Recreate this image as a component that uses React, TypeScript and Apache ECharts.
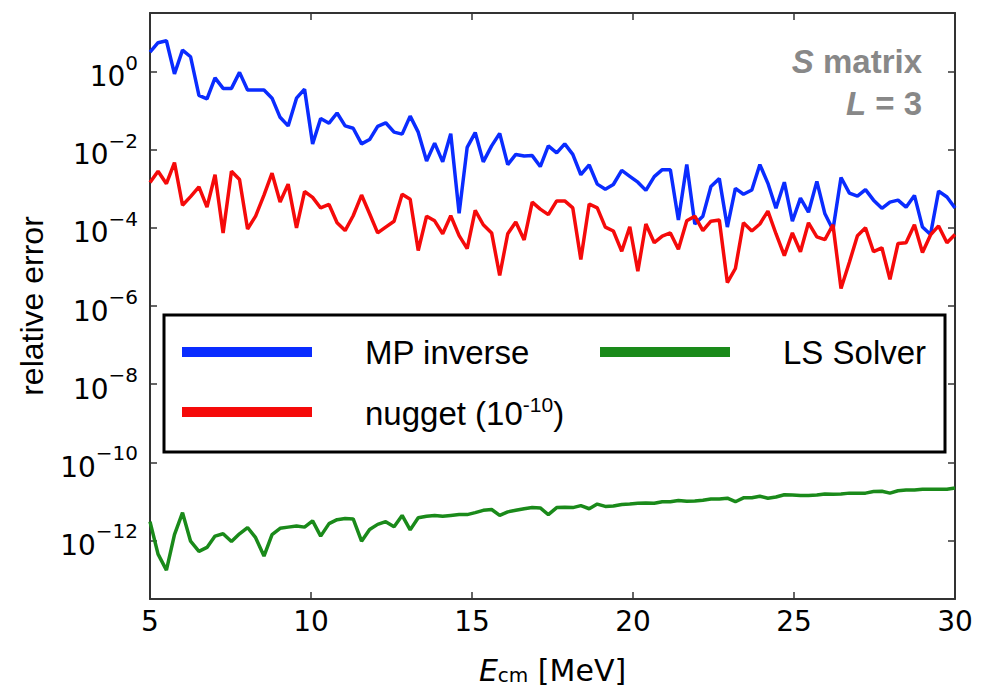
import { useEffect, useRef } from "react";
import * as echarts from "echarts";

// Sample energies E_cm [MeV] (100 samples from 5 to 30)
const energies = [
  5.0, 5.25, 5.51, 5.76, 6.01, 6.26, 6.52, 6.77, 7.02, 7.27,
  7.53, 7.78, 8.03, 8.28, 8.54, 8.79, 9.04, 9.29, 9.55, 9.8,
  10.05, 10.3, 10.56, 10.81, 11.06, 11.31, 11.57, 11.82, 12.07, 12.32,
  12.58, 12.83, 13.08, 13.33, 13.59, 13.84, 14.09, 14.34, 14.6, 14.85,
  15.1, 15.35, 15.61, 15.86, 16.11, 16.36, 16.62, 16.87, 17.12, 17.37,
  17.63, 17.88, 18.13, 18.38, 18.64, 18.89, 19.14, 19.39, 19.65, 19.9,
  20.15, 20.4, 20.66, 20.91, 21.16, 21.41, 21.67, 21.92, 22.17, 22.42,
  22.68, 22.93, 23.18, 23.43, 23.69, 23.94, 24.19, 24.44, 24.7, 24.95,
  25.2, 25.45, 25.71, 25.96, 26.21, 26.46, 26.72, 26.97, 27.22, 27.47,
  27.73, 27.98, 28.23, 28.48, 28.74, 28.99, 29.24, 29.49, 29.75, 30.0,
];

// Relative errors, stored as log10 exponents
const mpInverseExp = [
  0.5, 0.74, 0.79, -0.06, 0.55, 0.38, -0.61, -0.7, -0.16, -0.43,
  -0.43, -0.02, -0.47, -0.47, -0.47, -0.68, -1.17, -1.39, -0.68, -0.45,
  -1.85, -1.2, -1.32, -1.06, -1.39, -1.45, -1.85, -1.74, -1.4, -1.31,
  -1.55, -1.6, -1.14, -1.55, -2.29, -1.83, -2.31, -1.59, -3.63, -1.94,
  -1.56, -2.31, -1.9, -1.58, -2.38, -2.12, -2.16, -2.15, -2.43, -1.9,
  -2.08, -1.85, -2.12, -2.64, -2.39, -2.88, -3.01, -2.89, -2.53, -2.68,
  -2.83, -3.04, -2.69, -2.51, -2.51, -3.8, -2.38, -3.9, -3.7, -2.94,
  -2.74, -3.98, -2.99, -3.14, -3.03, -2.38, -2.86, -3.5, -2.83, -3.83,
  -3.24, -3.6, -2.81, -3.64, -4.05, -2.71, -3.11, -3.19, -3.02, -3.29,
  -3.5, -3.34, -3.29, -3.47, -3.17, -3.98, -4.17, -3.06, -3.21, -3.49,
];

const nuggetExp = [
  -2.84, -2.55, -2.87, -2.33, -3.42, -3.2, -2.95, -3.47, -2.64, -4.13,
  -2.55, -2.76, -4.03, -3.7, -3.16, -2.6, -3.34, -2.88, -4.0, -3.07,
  -3.22, -3.49, -3.4, -3.87, -4.07, -3.69, -3.16, -3.64, -4.13, -3.98,
  -3.83, -3.14, -3.27, -4.58, -3.7, -3.82, -4.15, -3.69, -4.2, -4.53,
  -3.55, -3.92, -4.13, -5.22, -4.15, -3.85, -4.31, -3.34, -3.52, -3.66,
  -3.31, -3.31, -3.49, -4.81, -3.39, -3.49, -3.98, -4.08, -4.6, -3.97,
  -5.11, -3.9, -4.38, -4.21, -4.13, -4.55, -3.82, -3.7, -4.07, -3.83,
  -3.8, -5.4, -5.04, -3.87, -4.08, -3.9, -3.57, -4.15, -4.71, -4.13,
  -4.61, -3.87, -4.23, -4.3, -3.92, -5.55, -4.88, -4.2, -4.0, -4.61,
  -4.51, -5.32, -4.4, -4.38, -3.92, -4.63, -4.18, -3.95, -4.38, -4.17,
];

const lsSolverExp = [
  -11.52, -12.35, -12.76, -11.85, -11.29, -12.02, -12.28, -12.18, -11.89, -11.83,
  -12.03, -11.83, -11.67, -11.93, -12.4, -11.85, -11.69, -11.66, -11.63, -11.66,
  -11.5, -11.89, -11.57, -11.47, -11.44, -11.45, -12.02, -11.72, -11.59, -11.52,
  -11.65, -11.36, -11.73, -11.42, -11.38, -11.36, -11.38, -11.36, -11.34, -11.34,
  -11.29, -11.23, -11.21, -11.36, -11.27, -11.23, -11.19, -11.16, -11.17, -11.34,
  -11.16, -11.15, -11.16, -11.11, -11.19, -11.07, -11.13, -11.12, -11.08, -11.07,
  -11.05, -11.04, -11.05, -11.01, -11.01, -10.98, -11.0, -10.99, -10.97, -10.94,
  -10.94, -10.92, -11.01, -10.91, -10.91, -10.87, -10.92, -10.89, -10.83, -10.84,
  -10.85, -10.85, -10.84, -10.81, -10.82, -10.81, -10.79, -10.79, -10.79, -10.75,
  -10.74, -10.79, -10.73, -10.71, -10.71, -10.69, -10.69, -10.69, -10.69, -10.66,
];

const yTickExponents = [-12, -10, -8, -6, -4, -2, 0];
const yMinExp = -13.5;
const yMaxExp = 1.5;

const seriesNames = ["MP inverse", "nugget", "LS Solver"];

export default function App() {
  const ref = useRef<HTMLDivElement>(null);

  useEffect(() => {
    document.body.style.margin = "0";
    const chart = echarts.init(ref.current as HTMLDivElement, null, { renderer: "svg" });

    const toPairs = (exps: number[]) => exps.map((e, i) => [energies[i], Math.pow(10, e)]);
    const yTickValues = yTickExponents.map((e) => Math.pow(10, e));

    const axisColor = "#333333";
    const tickFont = "DejaVu Sans";

    const yLabelFormatter = (v: number) => {
      const e = Math.round(Math.log10(v));
      const s = e < 0 ? "\u2212" + -e : String(e);
      return "{b|10}{s|" + s + "}";
    };
    const yLabelRich = {
      b: { fontFamily: tickFont, fontSize: 28, color: "#000", lineHeight: 38, verticalAlign: "bottom" },
      s: { fontFamily: tickFont, fontSize: 20, color: "#000", lineHeight: 22, verticalAlign: "top" },
    };

    const legendFont = "Liberation Sans, Arial, sans-serif";
    const legendText = {
      fontFamily: legendFont,
      fontSize: 33,
      color: "#000",
      lineHeight: 36,
      padding: [0, 0, 0, 48],
      rich: {
        n: { fontFamily: legendFont, fontSize: 33, color: "#000", lineHeight: 36, verticalAlign: "bottom" },
        sup: { fontFamily: legendFont, fontSize: 21, color: "#000", lineHeight: 20, verticalAlign: "top" },
      },
    };
    const legendFormatter = (name: string) =>
      name === "nugget" ? "{n|nugget (10}{sup|-10}{n|)}" : name;

    const option: any = {
      animation: false,
      backgroundColor: "#ffffff",
      grid: { left: 150, top: 13, width: 805, height: 601, show: false },
      xAxis: [
        {
          type: "value",
          min: 5,
          max: 30,
          interval: 5,
          name: "{i|E}{s|cm}{n| [MeV]}",
          nameLocation: "middle",
          nameGap: 50,
          nameTextStyle: {
            rich: {
              i: { fontFamily: tickFont, fontStyle: "italic", fontSize: 30, color: "#000", lineHeight: 36, verticalAlign: "bottom" },
              s: { fontFamily: tickFont, fontSize: 20, color: "#000", lineHeight: 26, verticalAlign: "bottom" },
              n: { fontFamily: tickFont, fontSize: 30, color: "#000", lineHeight: 36, verticalAlign: "bottom" },
            },
          },
          axisLine: { show: true, onZero: false, lineStyle: { color: axisColor, width: 2 } },
          axisTick: { show: true, inside: true, length: 7, lineStyle: { color: axisColor, width: 1.5 } },
          axisLabel: { show: true, margin: 8, fontFamily: tickFont, fontSize: 28, color: "#000" },
          splitLine: { show: false },
        },
        {
          type: "value",
          position: "top",
          min: 5,
          max: 30,
          interval: 5,
          axisLine: { show: true, onZero: false, lineStyle: { color: axisColor, width: 2 } },
          axisTick: { show: true, inside: true, length: 7, lineStyle: { color: axisColor, width: 1.5 } },
          axisLabel: { show: false },
          splitLine: { show: false },
        },
      ],
      yAxis: [
        {
          type: "log",
          logBase: 10,
          min: Math.pow(10, yMinExp),
          max: Math.pow(10, yMaxExp),
          name: "relative error",
          nameLocation: "middle",
          nameGap: 102,
          nameTextStyle: { fontFamily: "Liberation Sans Narrow, Liberation Sans, Arial", fontSize: 32, color: "#000" },
          axisLine: { show: true, onZero: false, lineStyle: { color: axisColor, width: 2 } },
          axisTick: { show: true, inside: true, length: 7, customValues: yTickValues, lineStyle: { color: axisColor, width: 1.5 } },
          axisLabel: { show: true, margin: 12, customValues: yTickValues, formatter: yLabelFormatter, rich: yLabelRich },
          minorTick: { show: false },
          splitLine: { show: false },
        },
        {
          type: "log",
          logBase: 10,
          position: "right",
          min: Math.pow(10, yMinExp),
          max: Math.pow(10, yMaxExp),
          axisLine: { show: true, onZero: false, lineStyle: { color: axisColor, width: 2 } },
          axisTick: { show: true, inside: true, length: 7, customValues: yTickValues, lineStyle: { color: axisColor, width: 1.5 } },
          axisLabel: { show: false },
          splitLine: { show: false },
        },
      ],
      legend: [
        {
          data: [seriesNames[0], seriesNames[1]],
          orient: "vertical",
          left: 182,
          top: 334,
          padding: 0,
          itemWidth: 130,
          itemHeight: 10,
          itemGap: 24,
          icon: "rect",
          selectedMode: false,
          textStyle: legendText,
          formatter: legendFormatter,
          z: 10,
        },
        {
          data: [seriesNames[2]],
          orient: "vertical",
          left: 600,
          top: 334,
          padding: 0,
          itemWidth: 130,
          itemHeight: 10,
          icon: "rect",
          selectedMode: false,
          textStyle: legendText,
          z: 10,
        },
      ],
      graphic: [
        {
          type: "rect",
          z: 5,
          shape: { x: 164, y: 315, width: 781, height: 137 },
          style: { fill: "#ffffff", stroke: "#000000", lineWidth: 3 },
        },
        {
          type: "text",
          z: 6,
          x: 922,
          y: 61,
          style: {
            text: "{i|S}{b| matrix}",
            align: "right",
            verticalAlign: "middle",
            rich: {
              i: { fontFamily: "Liberation Sans, Arial", fontWeight: "bold", fontStyle: "italic", fontSize: 33, fill: "#888888" },
              b: { fontFamily: "Liberation Sans, Arial", fontWeight: "bold", fontSize: 33, fill: "#888888" },
            },
          },
        },
        {
          type: "text",
          z: 6,
          x: 922,
          y: 103,
          style: {
            text: "{i|L}{b| = 3}",
            align: "right",
            verticalAlign: "middle",
            rich: {
              i: { fontFamily: "Liberation Sans, Arial", fontWeight: "bold", fontStyle: "italic", fontSize: 33, fill: "#888888" },
              b: { fontFamily: "Liberation Sans, Arial", fontWeight: "bold", fontSize: 33, fill: "#888888" },
            },
          },
        },
      ],
      series: [
        {
          name: seriesNames[0],
          type: "line",
          xAxisIndex: 0,
          yAxisIndex: 0,
          data: toPairs(mpInverseExp),
          showSymbol: false,
          color: "#0a2cff",
          lineStyle: { color: "#0a2cff", width: 3.5 },
          z: 2,
        },
        {
          name: seriesNames[1],
          type: "line",
          xAxisIndex: 0,
          yAxisIndex: 0,
          data: toPairs(nuggetExp),
          showSymbol: false,
          color: "#f50a0a",
          lineStyle: { color: "#f50a0a", width: 3.5 },
          z: 3,
        },
        {
          name: seriesNames[2],
          type: "line",
          xAxisIndex: 0,
          yAxisIndex: 0,
          data: toPairs(lsSolverExp),
          showSymbol: false,
          color: "#1a8a1a",
          lineStyle: { color: "#1a8a1a", width: 3.5 },
          z: 2,
        },
      ],
    };

    chart.setOption(option);
    return () => chart.dispose();
  }, []);

  return <div ref={ref} style={{ width: 988, height: 690 }} />;
}
